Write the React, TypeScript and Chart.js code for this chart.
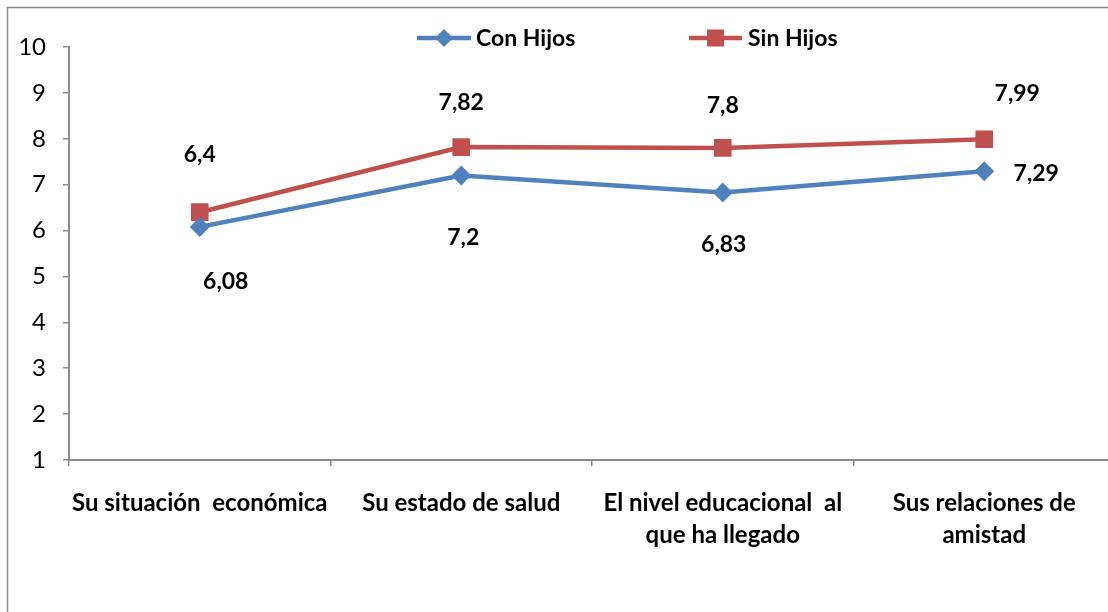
import React, { useEffect, useRef } from "react";
import { Chart, registerables } from "chart.js";

Chart.register(...registerables);

const categories: string[][] = [
  ["Su situación  económica"],
  ["Su estado de salud"],
  ["El nivel educacional  al", "que ha llegado"],
  ["Sus relaciones de", "amistad"],
];
const seriesNames = ["Con Hijos", "Sin Hijos"];
const conHijos = [6.08, 7.2, 6.83, 7.29];
const sinHijos = [6.4, 7.82, 7.8, 7.99];
const yMin = 1;
const yMax = 10;

// label placement offsets (px) relative to each point
const conLabelOffsets = [[26, 55], [2, 62], [1, 52], [52, 2]];
const sinLabelOffsets = [[0, -58], [0, -44], [0, -42], [33, -46]];

const BLUE = "#4F81BD";
const RED = "#C0504D";
const FONT = "Lato, 'Open Sans', sans-serif";
const BOLD_SIZE = 23;
const CAT_SIZE = 24;
const TICK_SIZE = 24;

const fmt = (v: number) => String(v).replace(".", ",");

const framePlugin = {
  id: "frame",
  beforeDraw(chart: any) {
    const ctx = chart.ctx;
    ctx.save();
    ctx.fillStyle = "#ffffff";
    ctx.fillRect(0, 0, chart.width, chart.height);
    ctx.strokeStyle = "#8c8c8c";
    ctx.lineWidth = 1.5;
    ctx.strokeRect(7.5, 7.5, chart.width + 50, chart.height + 50);
    ctx.restore();
  },
};

const labelPlugin = {
  id: "valueLabels",
  afterDatasetsDraw(chart: any) {
    const ctx = chart.ctx;
    const offsets = [conLabelOffsets, sinLabelOffsets];
    ctx.save();
    ctx.font = `bold ${BOLD_SIZE}px ${FONT}`;
    ctx.fillStyle = "#000";
    ctx.textAlign = "center";
    ctx.textBaseline = "middle";
    chart.data.datasets.forEach((ds: any, di: number) => {
      const meta = chart.getDatasetMeta(di);
      meta.data.forEach((pt: any, i: number) => {
        const [dx, dy] = offsets[di][i];
        ctx.fillText(fmt(ds.data[i]), pt.x + dx, pt.y + dy);
      });
    });
    ctx.restore();
  },
};

const legendPlugin = {
  id: "customLegend",
  afterDraw(chart: any) {
    const ctx = chart.ctx;
    const y = 38;
    const items = [
      { x0: 417, x1: 471, tx: 476, color: BLUE, style: "diamond", text: seriesNames[0] },
      { x0: 689, x1: 742, tx: 748, color: RED, style: "square", text: seriesNames[1] },
    ];
    ctx.save();
    items.forEach((it) => {
      ctx.strokeStyle = it.color;
      ctx.lineWidth = 4.5;
      ctx.beginPath();
      ctx.moveTo(it.x0, y);
      ctx.lineTo(it.x1, y);
      ctx.stroke();
      const cx = (it.x0 + it.x1) / 2;
      ctx.fillStyle = it.color;
      ctx.beginPath();
      if (it.style === "diamond") {
        const r = 9;
        ctx.moveTo(cx, y - r);
        ctx.lineTo(cx + r, y);
        ctx.lineTo(cx, y + r);
        ctx.lineTo(cx - r, y);
        ctx.closePath();
      } else {
        const s = 8.5;
        ctx.rect(cx - s, y - s, 2 * s, 2 * s);
      }
      ctx.fill();
      ctx.fillStyle = "#000";
      ctx.font = `bold ${BOLD_SIZE}px ${FONT}`;
      ctx.textAlign = "left";
      ctx.textBaseline = "middle";
      ctx.fillText(it.text, it.tx, y + 1);
    });
    ctx.restore();
  },
};

export default function App() {
  const ref = useRef<HTMLCanvasElement | null>(null);

  useEffect(() => {
    if (!ref.current) return;
    const chart = new Chart(ref.current, {
      type: "line",
      data: {
        labels: categories,
        datasets: [
          {
            label: seriesNames[0],
            data: conHijos,
            borderColor: BLUE,
            backgroundColor: BLUE,
            borderWidth: 4.5,
            pointStyle: "rectRot",
            pointRadius: 10,
            pointBorderWidth: 0,
            pointBackgroundColor: BLUE,
            tension: 0,
          },
          {
            label: seriesNames[1],
            data: sinHijos,
            borderColor: RED,
            backgroundColor: RED,
            borderWidth: 4.5,
            pointStyle: "rect",
            pointRadius: 12.5,
            pointBorderWidth: 0,
            pointBackgroundColor: RED,
            tension: 0,
          },
        ],
      },
      options: {
        responsive: false,
        animation: false,
        events: [],
        layout: { padding: { left: 0, top: 47, right: 15, bottom: 0 } },
        plugins: {
          legend: { display: false },
          tooltip: { enabled: false },
        },
        scales: {
          x: {
            type: "category",
            offset: true,
            grid: {
              drawOnChartArea: false,
              offset: true,
              tickLength: 6,
              color: "#8c8c8c",
              lineWidth: 1.5,
            },
            border: { color: "#8c8c8c", width: 2 },
            ticks: {
              color: "#000",
              maxRotation: 0,
              autoSkip: false,
              padding: 21,
              font: { family: FONT, size: CAT_SIZE, weight: "bold", lineHeight: 1.35 },
            },
            afterFit: (scale: any) => {
              scale.height = 180;
            },
          },
          y: {
            min: yMin,
            max: yMax,
            grid: {
              drawOnChartArea: false,
              tickLength: 6,
              color: "#8c8c8c",
              lineWidth: 1.5,
            },
            border: { color: "#8c8c8c", width: 2 },
            ticks: {
              stepSize: 1,
              color: "#000",
              padding: 17,
              font: { family: FONT, size: TICK_SIZE },
            },
            afterFit: (scale: any) => {
              scale.width = 69;
            },
          },
        },
      },
      plugins: [framePlugin, labelPlugin, legendPlugin],
    });
    return () => chart.destroy();
  }, []);

  return (
    <div
      style={{
        position: "fixed",
        left: 0,
        top: 0,
        width: 1108,
        height: 612,
        overflow: "hidden",
        background: "#fff",
      }}
    >
      <canvas ref={ref} width={1130} height={640} style={{ display: "block" }} />
    </div>
  );
}
